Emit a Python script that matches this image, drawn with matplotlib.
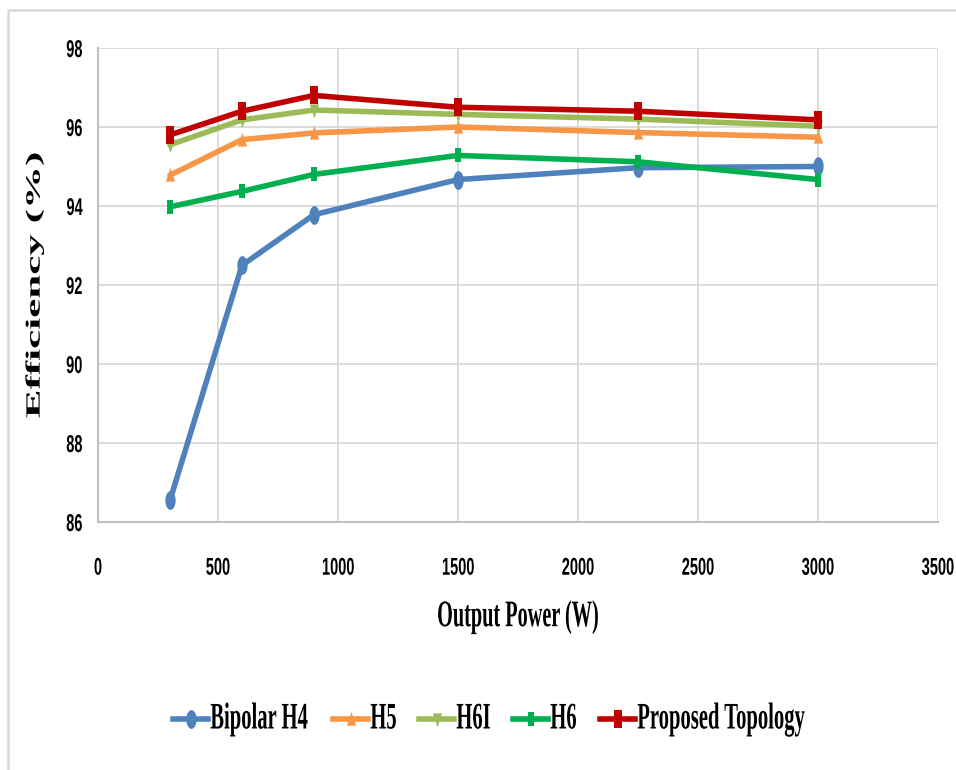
# -*- coding: utf-8 -*-
"""Efficiency vs. output power for several inverter topologies."""

import numpy as np
import matplotlib
matplotlib.use('Agg')
import matplotlib.pyplot as plt
from matplotlib.lines import Line2D
from matplotlib.patches import Rectangle
from matplotlib.path import Path
from matplotlib.patheffects import AbstractPathEffect
from matplotlib.transforms import Affine2D

# Output power (x-axis):
vecPwr = [300, 600, 900, 1500, 2250, 3000]

# Efficiency per topology (percent):
vecEffH4 = [86.55, 92.5, 93.78, 94.67, 94.97, 95.0]
vecEffH5 = [94.78, 95.68, 95.85, 96.0, 95.86, 95.74]
vecEffH6I = [95.55, 96.18, 96.43, 96.32, 96.2, 96.02]
vecEffH6 = [93.98, 94.37, 94.8, 95.28, 95.12, 94.67]
vecEffProp = [95.8, 96.4, 96.8, 96.5, 96.4, 96.18]

# Series labels:
lstLbls = ['Bipolar H4', 'H5', 'H6I', 'H6', 'Proposed Topology']

# Axis ticks:
vecXtcks = [0, 500, 1000, 1500, 2000, 2500, 3000, 3500]
vecYtcks = [86, 88, 90, 92, 94, 96, 98]


class Squeeze(AbstractPathEffect):
    """Compress glyphs horizontally (the reference is a squashed picture)."""

    def __init__(self, varSx, strAnchor='center'):
        super().__init__()
        self.varSx = varSx
        self.strAnchor = strAnchor

    def draw_path(self, renderer, gc, tpath, affine, rgbFace=None):
        objExt = tpath.get_extents(affine)
        if self.strAnchor == 'right':
            varCx = objExt.x1
        elif self.strAnchor == 'left':
            varCx = objExt.x0
        else:
            varCx = 0.5 * (objExt.x0 + objExt.x1)
        objAff = affine + Affine2D().translate(-varCx, 0.0).scale(
            self.varSx, 1.0).translate(varCx, 0.0)
        renderer.draw_path(gc, tpath, objAff, rgbFace)


# Narrow marker shapes:
vecAng = np.linspace(0.0, 2.0 * np.pi, 40)
mrkEll = Path(np.column_stack((0.55 * np.cos(vecAng), np.sin(vecAng))))
mrkRct = Path([(-0.5, -1.0), (0.5, -1.0), (0.5, 1.0), (-0.5, 1.0),
               (-0.5, -1.0)], closed=True)
mrkTriUp = Path([(-0.6, -0.8), (0.6, -0.8), (0.0, 1.0), (-0.6, -0.8)],
                closed=True)
mrkTriDn = Path([(-0.6, 0.8), (0.6, 0.8), (0.0, -1.0), (-0.6, 0.8)],
                closed=True)

lstClr = ['#4F81BD', '#F79646', '#9BBB59', '#00B050', '#C00000']
lstMrk = [mrkEll, mrkTriUp, mrkTriDn, mrkRct, mrkRct]
lstMrkSz = [13.5, 11.0, 11.0, 10.0, 12.5]
lstData = [vecEffH4, vecEffH5, vecEffH6I, vecEffH6, vecEffProp]

# Fonts:
strSerif = 'Liberation Serif'
strSans = 'Liberation Sans'

# Create main figure:
fig01 = plt.figure(figsize=(9.56, 7.7), dpi=100.0, facecolor='w')

# Chart-area border (only top and left visible in the reference):
fig01.add_artist(Rectangle((8.0 / 956.0, -0.05), 1.2, 1.05 - 10.0 / 770.0,
                           transform=fig01.transFigure, fill=False,
                           edgecolor='#D9D9D9', linewidth=1.8))

axs01 = fig01.add_axes([98.0 / 956.0, 1.0 - 522.0 / 770.0,
                        840.0 / 956.0, 474.0 / 770.0])

for idx in range(len(lstData)):
    axs01.plot(vecPwr, lstData[idx],
               color=lstClr[idx],
               linewidth=4.0,
               solid_joinstyle='round',
               solid_capstyle='round',
               marker=lstMrk[idx],
               markersize=lstMrkSz[idx],
               markeredgewidth=0.0,
               zorder=3)

# Axis limits and grid:
axs01.set_xlim(0, 3500)
axs01.set_ylim(86, 98)
axs01.grid(True, color='#D9D9D9', linewidth=1.3, zorder=0)
axs01.set_axisbelow(True)
for strSpn in ['top', 'right']:
    axs01.spines[strSpn].set_visible(False)
for strSpn in ['left', 'bottom']:
    axs01.spines[strSpn].set_color('#BFBFBF')
    axs01.spines[strSpn].set_linewidth(1.5)
axs01.tick_params(length=0)
axs01.tick_params(axis='x', pad=25)
axs01.tick_params(axis='y', pad=11)

# Tick labels:
axs01.set_xticks(vecXtcks, labels=[str(x) for x in vecXtcks],
                 family=strSans, fontweight='bold', fontsize=17.5,
                 path_effects=[Squeeze(0.6)])
axs01.set_yticks(vecYtcks, labels=[str(x) for x in vecYtcks],
                 family=strSans, fontweight='bold', fontsize=17.5,
                 path_effects=[Squeeze(0.6, 'right')])

# Axis labels:
axs01.set_xlabel('Output Power (W)', family=strSerif, fontweight='bold',
                 fontsize=27, va='center', path_effects=[Squeeze(0.54)])
axs01.xaxis.set_label_coords(0.5, -0.2)
axs01.set_ylabel('Efficiency (%)', family=strSerif, fontweight='bold',
                 fontsize=31, va='center', ha='center',
                 path_effects=[Squeeze(0.47)])
axs01.yaxis.set_label_coords(-0.075, 0.5)

# Legend, laid out by hand below the plot:
varLgdY = 1.0 - 719.0 / 770.0
lstLgdX = [173.0, 333.0, 419.0, 513.0, 600.0]
varHndW = 35.0
for idx in range(len(lstLbls)):
    varX0 = lstLgdX[idx] / 956.0
    varX1 = (lstLgdX[idx] + varHndW) / 956.0
    fig01.add_artist(Line2D([varX0, 0.5 * (varX0 + varX1), varX1],
                            [varLgdY] * 3,
                            transform=fig01.transFigure,
                            color=lstClr[idx], linewidth=4.0,
                            marker=lstMrk[idx], markevery=[1],
                            markersize=lstMrkSz[idx], markeredgewidth=0.0))
    fig01.text(varX1 + 2.0 / 956.0, varLgdY, lstLbls[idx],
               family=strSerif, fontweight='bold', fontsize=27,
               ha='left', va='center',
               path_effects=[Squeeze(0.55, 'left')])

# Save figure:
fig01.savefig('out.png', dpi=100.0, facecolor='w')
